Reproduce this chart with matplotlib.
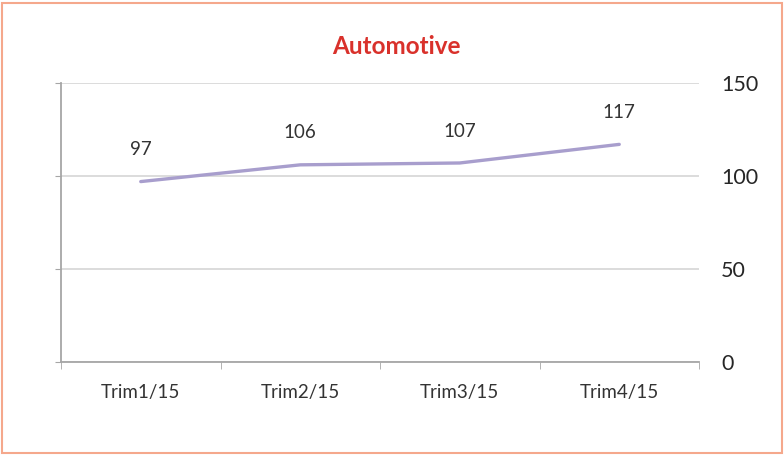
import numpy as np
import matplotlib
matplotlib.use('Agg')
import matplotlib.pyplot as plt
from matplotlib.patches import Rectangle

plt.rcParams['font.family'] = ['Lato', 'DejaVu Sans']

# data
categories = ['Trim1/15', 'Trim2/15', 'Trim3/15', 'Trim4/15']
values = [97, 106, 107, 117]
yticks = [0, 50, 100, 150]

fig = plt.figure(figsize=(7.84, 4.55), dpi=100)
ax = fig.add_axes([61/784, 1-362/455, 638/784, 279/455])

x = np.arange(len(categories))
ax.plot(x, values, color='#a89ecd', lw=2.4, solid_capstyle='round', zorder=3)

for xi, v in zip(x, values):
    ax.annotate(str(v), (xi, v), xytext=(0, 23), textcoords='offset points',
                ha='center', va='center', fontsize=13.5, color='#333333')

ax.set_xlim(-0.5, len(categories) - 0.5)
ax.set_ylim(0, 150)
ax.set_yticks(yticks)
ax.grid(axis='y', color='#d9d9d9', lw=1.3, zorder=0)
ax.set_axisbelow(True)

ax.tick_params(axis='y', left=True, right=False, labelleft=False, labelright=True,
               length=4, color='#a6a6a6', pad=12, labelsize=15.5, labelcolor='#262626')
ax.set_xticks(x)
ax.set_xticklabels(categories)
ax.set_xticks(np.arange(-0.5, len(categories)), minor=True)
ax.tick_params(axis='x', which='major', length=0, pad=16, labelsize=13.5, labelcolor='#333333')
ax.tick_params(axis='x', which='minor', length=5, color='#a6a6a6')

for s in ['top', 'right']:
    ax.spines[s].set_visible(False)
ax.spines['left'].set_color('#a6a6a6')
ax.spines['bottom'].set_color('#a6a6a6')
ax.spines['left'].set_linewidth(1.3)
ax.spines['bottom'].set_linewidth(1.3)

fig.text(0.505, 1-47/455, 'Automotive', ha='center', va='center', fontsize=17.5,
         fontweight='bold', color='#d9312b')

fig.patches.append(Rectangle((0.003, 0.004), 0.994, 0.99, transform=fig.transFigure,
                             fill=False, edgecolor='#f5a88c', lw=1.5))

fig.savefig('out.png', dpi=100)
